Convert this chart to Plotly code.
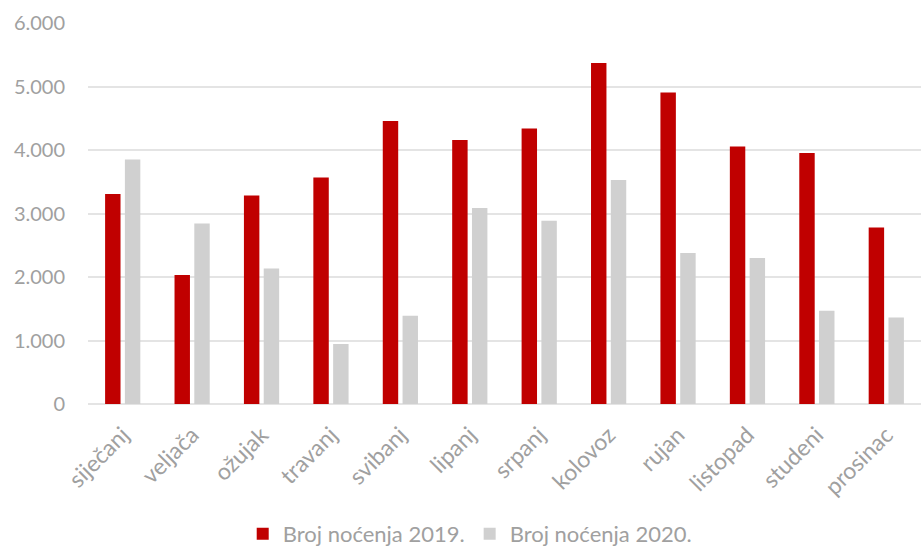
import plotly.graph_objects as go

months = ["siječanj", "veljača", "ožujak", "travanj", "svibanj", "lipanj",
          "srpanj", "kolovoz", "rujan", "listopad", "studeni", "prosinac"]
nocenja_2019 = [3307, 2031, 3285, 3568, 4457, 4157, 4340, 5370, 4907, 4057, 3953, 2781]
nocenja_2020 = [3852, 2844, 2135, 945, 1391, 3087, 2887, 3528, 2378, 2299, 1469, 1364]
y_ticks = [0, 1000, 2000, 3000, 4000, 5000, 6000]

font_family = "Lato, 'Open Sans', sans-serif"
grey_text = "#A0A0A0"

fig = go.Figure()
fig.add_trace(go.Bar(x=months, y=nocenja_2019, name="Broj noćenja 2019.",
                     marker=dict(color="#C00000", line=dict(width=0))))
fig.add_trace(go.Bar(x=months, y=nocenja_2020, name="Broj noćenja 2020.",
                     marker=dict(color="#D0D0D0", line=dict(width=0))))

fig.update_layout(
    width=921, height=555,
    margin=dict(l=88, r=0, t=23, b=151),
    plot_bgcolor="white", paper_bgcolor="white",
    separators=",.",
    barmode="group", bargap=0.43, bargroupgap=0.22,
    font=dict(family=font_family, color=grey_text, size=20),
    showlegend=True,
    legend=dict(orientation="h", x=0.51, xanchor="center", xref="container",
                y=-0.012, yanchor="bottom", yref="container",
                font=dict(size=22, color=grey_text), itemsizing="constant",
                traceorder="normal", itemwidth=30),
)
fig.update_yaxes(range=[0, 6000], tickvals=y_ticks, tickformat=",d",
                 showgrid=True, gridcolor="#E4E4E4", gridwidth=1.5,
                 zeroline=True, zerolinecolor="#E4E4E4", zerolinewidth=1.5,
                 showline=False, ticks="", ticklabelstandoff=22,
                 tickfont=dict(size=20, color=grey_text))
fig.update_xaxes(tickangle=-45, showline=False, ticks="", ticklabelstandoff=12,
                 tickfont=dict(size=23, color=grey_text))

fig.write_html("out.html")
